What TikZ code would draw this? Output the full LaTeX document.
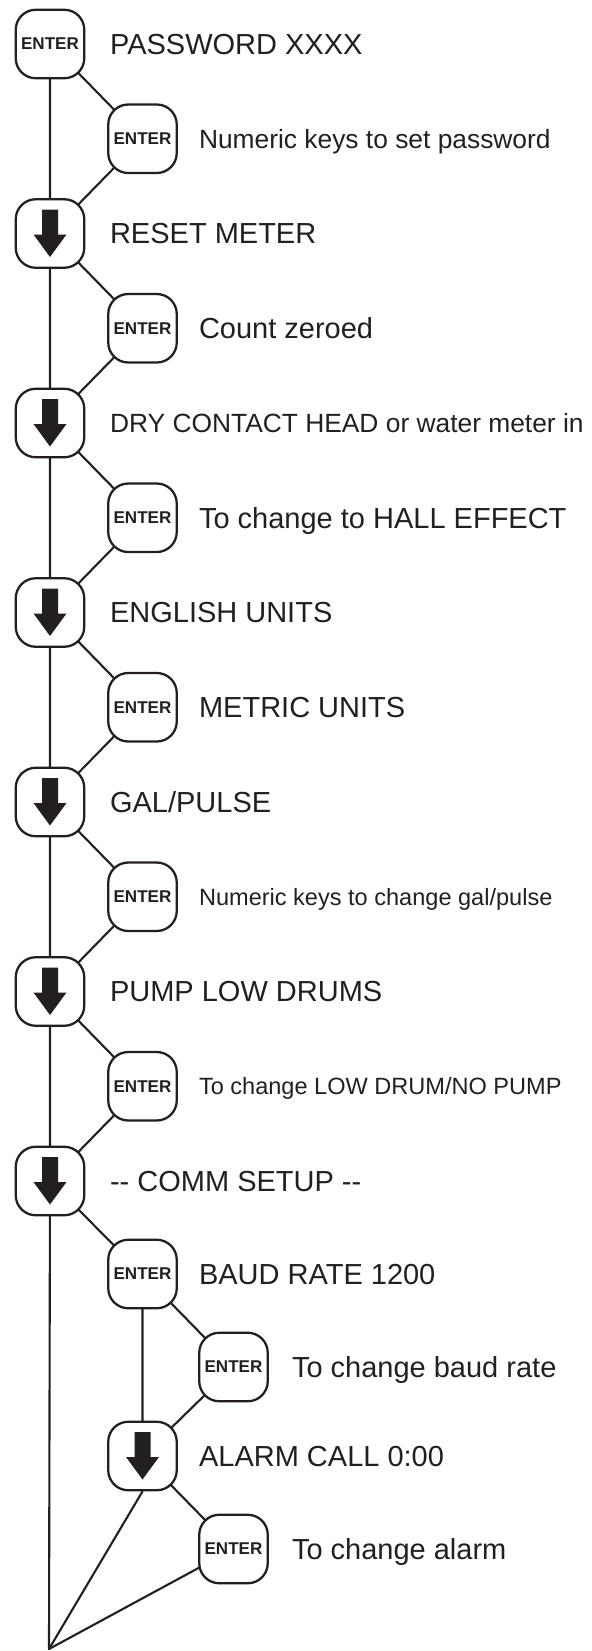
\documentclass[tikz,border=0pt]{standalone}
\usepackage{fontspec}
\setmainfont{Liberation Sans}
\usetikzlibrary{backgrounds}
\definecolor{ink}{RGB}{35,31,32}
\begin{document}
\begin{tikzpicture}[line join=round,line cap=round,line width=1.2pt,color=ink,
	wire/.style={draw=ink,line width=1.2pt,line cap=round,line join=round},
	key/.style={draw,fill=white,rounded corners=0.4cm,line width=1.3pt,minimum width=1.37cm,minimum height=1.37cm,inner sep=0pt,font=\bfseries\fontsize{9.7}{10}\selectfont},
	down/.style={key,path picture={\fill[ink,sharp corners] ([shift={(-0.16,0.48)}]path picture bounding box.center) -- ++(0.32,0) -- ++(0,-0.5) -- ++(0.17,0) -- ++(-0.33,-0.45) -- ++(-0.33,0.45) -- ++(0.17,0) -- cycle;}},
	txt/.style={anchor=base west,inner sep=0pt,font=\fontsize{16.5}{18}\selectfont,yshift=-0.208cm},
	txtm/.style={anchor=base west,inner sep=0pt,font=\fontsize{15}{17}\selectfont,yshift=-0.189cm},
	txts/.style={anchor=base west,inner sep=0pt,font=\fontsize{13.4}{15}\selectfont,yshift=-0.169cm}]
	\useasboundingbox (0,0) rectangle (11.82,-33.02);
	\node[key] (M0) at (1,-0.88) {ENTER};
	\node[key] (S0) at (2.85,-2.775) {ENTER};
	\node[down] (M1) at (1,-4.67) {};
	\node[key] (S1) at (2.85,-6.565) {ENTER};
	\node[down] (M2) at (1,-8.46) {};
	\node[key] (S2) at (2.85,-10.355) {ENTER};
	\node[down] (M3) at (1,-12.25) {};
	\node[key] (S3) at (2.85,-14.145) {ENTER};
	\node[down] (M4) at (1,-16.04) {};
	\node[key] (S4) at (2.85,-17.935) {ENTER};
	\node[down] (M5) at (1,-19.83) {};
	\node[key] (S5) at (2.85,-21.725) {ENTER};
	\node[down] (M6) at (1,-23.62) {};
	\node[key] (S6) at (2.85,-25.48) {ENTER};
	\node[key] (R0) at (4.67,-27.34) {ENTER};
	\node[down] (S7) at (2.85,-29.12) {};
	\node[key] (R1) at (4.67,-30.98) {ENTER};
	\coordinate (Z) at (0.98,-32.98);
	\node[txt] (tM0) at (2.18,-0.88) {PASSWORD XXXX};
	\node[txtm] (tS0) at (3.96,-2.775) {Numeric keys to set password};
	\node[txt] (tM1) at (2.18,-4.67) {RESET METER};
	\node[txt] (tS1) at (3.96,-6.565) {Count zeroed};
	\node[txtm] (tM2) at (2.18,-8.46) {DRY CONTACT HEAD or water meter in};
	\node[txt] (tS2) at (3.96,-10.355) {To change to HALL EFFECT};
	\node[txt] (tM3) at (2.18,-12.25) {ENGLISH UNITS};
	\node[txt] (tS3) at (3.96,-14.145) {METRIC UNITS};
	\node[txt] (tM4) at (2.18,-16.04) {GAL/PULSE};
	\node[txts] (tS4) at (3.96,-17.935) {Numeric keys to change gal/pulse};
	\node[txt] (tM5) at (2.18,-19.83) {PUMP LOW DRUMS};
	\node[txts] (tS5) at (3.96,-21.725) {To change LOW DRUM/NO PUMP};
	\node[txt] (tM6) at (2.18,-23.62) {{-}{-} COMM SETUP {-}{-}};
	\node[txt] (tS6) at (3.96,-25.48) {BAUD RATE 1200};
	\node[txt] (tR0) at (5.82,-27.34) {To change baud rate};
	\node[txt] (tS7) at (3.96,-29.12) {ALARM CALL 0:00};
	\node[txt] (tR1) at (5.82,-30.98) {To change alarm};
	\begin{scope}[on background layer]
		\draw[wire] (M0.center)--(M1.center)--(M2.center)--(M3.center)--(M4.center)--(M5.center)--(M6.center)--(Z);
		\draw[wire] (M0.center)--(S0.center)--(M1.center)--(S1.center)--(M2.center)--(S2.center)--(M3.center)--(S3.center)--(M4.center)--(S4.center)--(M5.center)--(S5.center)--(M6.center)--(S6.center)--(R0.center)--(S7.center)--(R1.center)--(Z);
		\draw[wire] (S6.center)--(S7.center) (S7.south)--(Z);
	\end{scope}
\end{tikzpicture}
\end{document}
